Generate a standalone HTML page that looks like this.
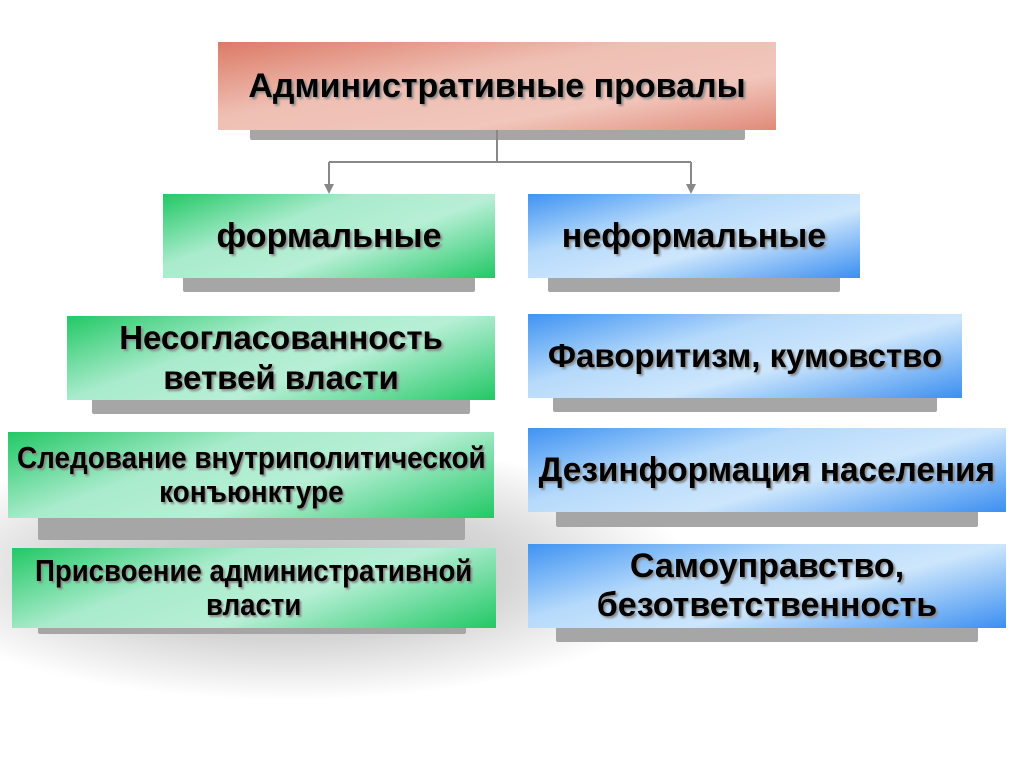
<!DOCTYPE html>
<html><head><meta charset="utf-8"><style>
body{margin:0;width:1024px;height:767px;background:#fff;position:relative;overflow:hidden;font-family:"Liberation Sans",sans-serif}
.bg{position:absolute;left:-40px;top:440px;width:730px;height:270px;background:radial-gradient(ellipse 400px 130px at 330px 130px,#bcbcbc 0%,#d6d6d6 55%,rgba(255,255,255,0) 100%)}
.sh{position:absolute;background:#a6a6a6;border-radius:0 0 2px 2px}
.b{position:absolute;display:flex;align-items:center;justify-content:center;text-align:center;font-weight:bold;color:#000;text-shadow:2px 2px 2px #8a8a8a;line-height:40px}
.g{background:linear-gradient(160deg,#22c865 0%,#a9ebcc 35%,#b7efd6 60%,#22c865 100%)}
.u{background:linear-gradient(165deg,#3f93f2 0%,#b6dafb 35%,#cde6fc 60%,#3b8ff1 100%)}
.r{background:linear-gradient(170deg,#dc7a66 0%,#efbfb3 40%,#f1c6bb 70%,#e08a79 100%)}
.n{display:inline-block;transform:scaleX(.86);white-space:nowrap}
</style></head><body>
<div class="bg"></div>
<div class="sh" style="left:250px;top:128px;width:495px;height:12px"></div>
<div class="b r" style="left:218px;top:42px;width:558px;height:88px;font-size:34px">Административные провалы</div>
<svg style="position:absolute;left:0;top:0" width="1024" height="200">
<g stroke="#888" stroke-width="2" fill="none"><path d="M497 130V162M329 162H691M329 162V186M691 162V186"/></g>
<path d="M324 184L334 184L329 194Z M686 184L696 184L691 194Z" fill="#888"/></svg>
<div class="sh" style="left:183px;top:276px;width:292px;height:16px"></div>
<div class="b g" style="left:163px;top:194px;width:332px;height:84px;font-size:34px">формальные</div>
<div class="sh" style="left:548px;top:276px;width:292px;height:16px"></div>
<div class="b u" style="left:528px;top:194px;width:332px;height:84px;font-size:34px">неформальные</div>
<div class="sh" style="left:92px;top:398px;width:378px;height:16px"></div>
<div class="b g" style="left:67px;top:316px;width:428px;height:84px;font-size:33px">Несогласованность<br>ветвей власти</div>
<div class="sh" style="left:553px;top:396px;width:384px;height:16px"></div>
<div class="b u" style="left:528px;top:314px;width:434px;height:84px;font-size:33px">Фаворитизм, кумовство</div>
<div class="sh" style="left:38px;top:516px;width:427px;height:24px"></div>
<div class="b g" style="left:8px;top:432px;width:486px;height:86px;font-size:31px;line-height:34px"><span class="n" style="transform:scaleX(.9)">Следование внутриполитической<br>конъюнктуре</span></div>
<div class="sh" style="left:556px;top:510px;width:422px;height:17px"></div>
<div class="b u" style="left:528px;top:428px;width:478px;height:84px;font-size:34px"><span class="n" style="transform:scaleX(.98)">Дезинформация населения</span></div>
<div class="sh" style="left:38px;top:626px;width:428px;height:8px"></div>
<div class="b g" style="left:12px;top:548px;width:484px;height:80px;font-size:31px;line-height:34px"><span class="n" style="transform:scaleX(.89)">Присвоение административной<br>власти</span></div>
<div class="sh" style="left:556px;top:626px;width:422px;height:16px"></div>
<div class="b u" style="left:528px;top:544px;width:478px;height:84px;font-size:34px;line-height:39px">Самоуправство,<br>безответственность</div>
</body></html>
